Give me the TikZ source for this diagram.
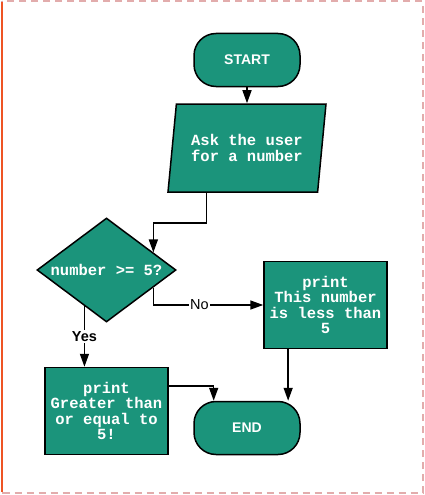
\documentclass[tikz,border=0pt]{standalone}
\usepackage{fontspec}
\setmainfont{Liberation Sans}
\setmonofont{Liberation Mono}
\usetikzlibrary{calc,positioning,shapes.geometric,arrows.meta}
\definecolor{flowgreen}{RGB}{27,148,123}
\definecolor{framepink}{RGB}{226,172,172}
\definecolor{frameorange}{RGB}{238,84,36}

\begin{document}
\begin{tikzpicture}[x=1pt,y=-1pt]

\tikzset{termnode/.style={font=\bfseries\fontsize{14}{16}\selectfont,text=white,fill=flowgreen,draw=black,line width=1.5pt,rounded corners=22pt,minimum width=106pt,minimum height=53pt},
monotext/.style={font=\ttfamily\bfseries\fontsize{15.5}{15.6}\selectfont,text=white,align=center},
ionode/.style={monotext,shape=trapezium,trapezium left angle=76,trapezium right angle=104,trapezium stretches body,fill=flowgreen,draw=black,line width=1.5pt,minimum width=158pt,minimum height=88pt},
decnode/.style={monotext,shape=diamond,aspect=1.34,inner sep=0pt,fill=flowgreen,draw=black,line width=1.5pt,minimum width=139pt,minimum height=104pt},
procnode/.style={monotext,shape=rectangle,fill=flowgreen,draw=black,line width=1.5pt,minimum width=123pt,minimum height=87pt},
arr/.style={-{Triangle[width=9pt,length=13pt]},line width=1.5pt},
lbl/.style={fill=white,inner sep=1pt,text=black,font=\fontsize{14.5}{16}\selectfont}}

% Frame
\useasboundingbox (0,0) rectangle (424,495);
\draw[framepink,line width=2pt,dash pattern=on 7pt off 5pt] (2,1.5) rectangle (422.5,493);
\draw[frameorange,line width=2pt] (1.5,2) -- (1.5,492);

% Flow nodes
\node[termnode] (start) at (247,60) {START};
\node[ionode] (ask) at (247,148) {Ask the user\\for a number};
\node[decnode] (dia) at (106.5,270) {number >= 5?};
\node[procnode] (less) at (325.5,305) {print\\This number\\is less than\\5};
\node[procnode] (great) at (106.5,411) {print\\Greater than\\or equal to\\5!};
\node[termnode] (stop) at (247,428) {END};

% Anchor points on the edges
\coordinate (askout) at ($(ask.bottom left corner)!0.26!(ask.bottom right corner)$);
\coordinate (diain) at ($(dia.north)!0.667!(dia.east)$);
\coordinate (noout) at ($(dia.east)!0.333!(dia.south)$);
\coordinate (yesout) at ($(dia.west)!0.686!(dia.south)$);
\coordinate (greatout) at ($(great.north east)!0.22!(great.south east)$);
\coordinate (stopin) at ($(stop.north west)!0.19!(stop.north east)$);
\coordinate (lessout) at ($(less.south west)!0.2!(less.south east)$);

% Connectors
\draw[arr] (start) -- (ask);
\draw[arr] (askout) -- ++(0,30) -| (diain);
\draw[arr] (noout) |- node[lbl,pos=0.71] {No} (less.west);
\draw[arr] (yesout) -- node[lbl,font=\bfseries\fontsize{14.5}{16}\selectfont] {Yes} (yesout |- great.north);
\draw[arr] (greatout) -| (stopin);
\draw[arr] (lessout) -- (lessout |- stop.north);

\end{tikzpicture}
\end{document}
